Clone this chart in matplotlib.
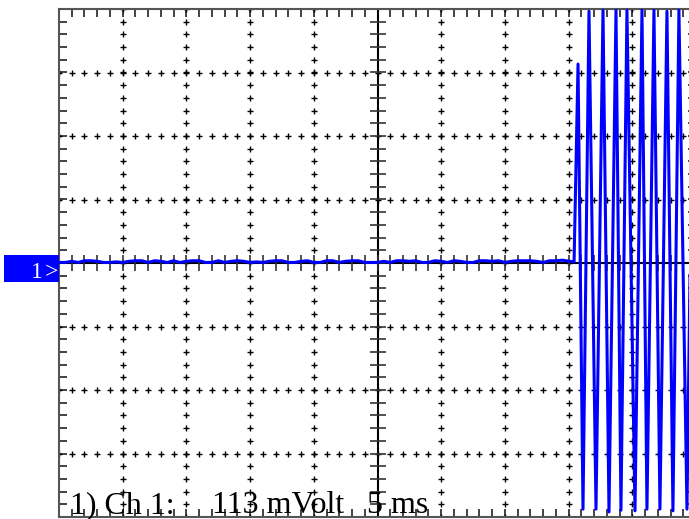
import numpy as np
import matplotlib
matplotlib.use("Agg")
import matplotlib.pyplot as plt
from matplotlib.patches import Rectangle

# scope settings
mv_per_div = 113
ms_per_div = 5
n_xdiv = 10
n_ydiv = 8

# quiet part of channel 1, one sample every 0.5 ms (mV)
baseline_mv = [
    1, 1, 3, 1, 4, 4, 3, 1, 1, 2,
    1, 3, 4, 4, 1, 4, 3, 1, 4, 1,
    3, 4, 4, 1, 1, 4, 1, 3, 4, 3,
    1, 2, 1, 3, 4, 4, 1, 1, 3, 4,
    1, 1, 4, 4, 1, 3, 4, 4, 1, 1,
    1, 3, 1, 4, 4, 3, 4, 1, 1, 4,
    3, 1, 4, 3, 1, 1, 4, 4, 3, 4,
    1, 3, 4, 4, 4, 3, 1, 4, 4, 5,
]
baseline_step = 0.5

# burst after 40 ms (ms, mV)
burst_t = [40.43, 40.74, 41.13, 41.60, 42.15, 42.70, 43.17, 43.72, 44.11,
           44.58, 45.21, 45.76, 46.15, 46.70, 47.17, 47.72, 48.19, 48.66,
           49.29, 49.80, 50.30]
burst_mv = [2, 354, -438, 448, -438, 450, -443, 450, -440, 450, -441, 450,
            -438, 450, -438, 448, -441, 450, -438, 450, -440]

# status line pieces and where each one starts (px)
label_parts = ["1) Ch 1:", "113 mVolt", "5 ms"]
label_x = [70, 212, 367]

W, H = 689, 519
fig = plt.figure(figsize=(W / 100, H / 100), dpi=100)
# plot area: left edge at 59 px, right edge runs off the image
ax = fig.add_axes([59 / W, 2 / H, 637 / W, 508 / H])

x_max = n_xdiv * ms_per_div
y_max = n_ydiv / 2 * mv_per_div
ax.set_xlim(0, x_max)
ax.set_ylim(-y_max, y_max)

minor_x = np.arange(0, x_max + 0.01, ms_per_div / 5)
minor_y = np.arange(-y_max, y_max + 0.01, mv_per_div / 5)

# border ticks
ax.set_xticks(minor_x)
ax.set_yticks(minor_y)
ax.tick_params(direction="in", length=6, width=1.2, color="#222222",
               top=True, right=True, labelbottom=False, labelleft=False)
for sp in ax.spines.values():
    sp.set_color("#555555")
    sp.set_linewidth(1.5)

# dotted grid made of small crosses
for k in range(1, n_xdiv):
    xv = k * ms_per_div
    if xv == x_max / 2:
        continue
    ax.plot([xv] * len(minor_y), minor_y, ls="none", marker="+",
            ms=5, mew=1, color="black", zorder=2)
for j in range(-n_ydiv // 2 + 1, n_ydiv // 2):
    if j == 0:
        continue
    yv = j * mv_per_div
    ax.plot(minor_x, [yv] * len(minor_x), ls="none", marker="+",
            ms=5, mew=1, color="black", zorder=2)

# centre axes with ticks
ax.axhline(0, color="black", lw=1.5, zorder=2)
ax.axvline(x_max / 2, color="black", lw=1.5, zorder=2)
ax.plot(minor_x, [0] * len(minor_x), ls="none", marker="|", ms=11,
        mew=1.2, color="#333333", zorder=2)
ax.plot([x_max / 2] * len(minor_y), minor_y, ls="none", marker="_", ms=11,
        mew=1.2, color="#333333", zorder=2)

# channel trace
t = list(np.arange(len(baseline_mv)) * baseline_step) + burst_t
v = baseline_mv + burst_mv
ax.plot(t, v, color="#0000ff", lw=2.2, zorder=3, clip_on=True)

# channel marker on the left
fig.add_artist(Rectangle((4 / W, 1 - 282 / H), 55 / W, 27 / H,
                         transform=fig.transFigure, color="#0000ff",
                         lw=0))
fig.text(43 / W, 1 - 278 / H, "1", color="white", fontsize=17,
         family="Liberation Serif", ha="right", va="baseline")
fig.text(58 / W, 1 - 278 / H, ">", color="white", fontsize=17,
         family="Liberation Serif", ha="right", va="baseline")

for part, px in zip(label_parts, label_x):
    fig.text(px / W, 6 / H, part, fontsize=23, family="Liberation Serif",
             ha="left", va="baseline", color="black")

fig.savefig("out.png", dpi=100)
